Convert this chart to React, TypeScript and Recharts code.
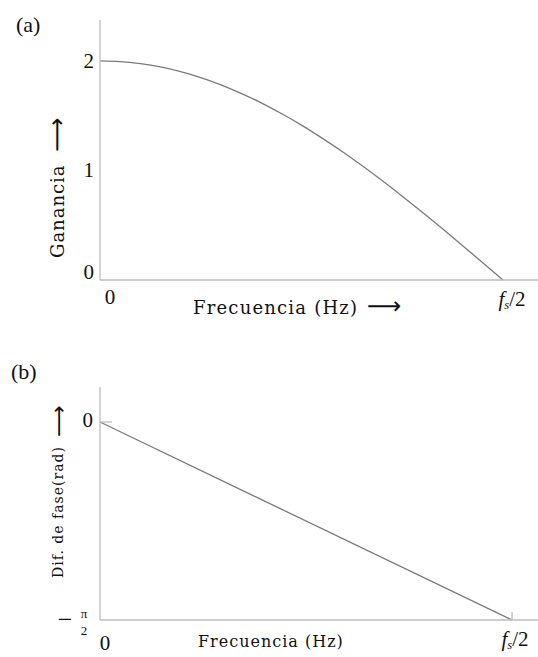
import React from "react";
import { LineChart, Line, XAxis, YAxis, Label } from "recharts";

// frequency is normalised so that 1 = fs/2
const gainFreq = [0, 0.05, 0.1, 0.15, 0.2, 0.25, 0.3, 0.35, 0.4, 0.45, 0.5, 0.55, 0.6, 0.65, 0.7, 0.75, 0.8, 0.85, 0.9, 0.95, 1];
const gainValues = [2.0, 1.994, 1.975, 1.945, 1.902, 1.848, 1.782, 1.704, 1.618, 1.52, 1.414, 1.298, 1.176, 1.045, 0.908, 0.765, 0.618, 0.467, 0.313, 0.157, 0];
const phaseFreq = [0, 1];
const phaseValues = [0, -1.5708];

const freqTicks = [0, 1];
const gainTicks = [0, 1, 2];
const phaseTicks = [-1.5708, 0];

const gainData = gainFreq.map((f, i) => ({ f, g: gainValues[i] }));
const phaseData = phaseFreq.map((f, i) => ({ f, p: phaseValues[i] }));

const TITLE = '"DejaVu Serif", serif';
const SERIF = '"Liberation Serif", serif';
const ARROW = '"DejaVu Sans", sans-serif';
const AXIS = "#bdbdbd";
const CURVE = "#7a7a7a";
const INK = "#111";

const FsHalf = ({ x, y, size }: { x: number; y: number; size: number }) => (
  <text x={x} y={y} textAnchor="middle" fontFamily={SERIF} fontSize={size} fill={INK}>
    <tspan fontStyle="italic">f</tspan>
    <tspan fontStyle="italic" fontSize={size * 0.6} dy={3}>s</tspan>
    <tspan dy={-3}>/2</tspan>
  </text>
);

const GainYTick = (props: any) => {
  const { x, y, payload } = props;
  return (
    <text
      x={x - 6}
      y={payload.value === 0 ? y - 8 : y}
      textAnchor="end"
      dominantBaseline="central"
      fontFamily={SERIF}
      fontSize={21}
      fill={INK}
    >
      {payload.value}
    </text>
  );
};

const GainXTick = (props: any) => {
  const { x, y, payload } = props;
  if (payload.value === 0) {
    return (
      <text x={x + 10} y={y + 24} textAnchor="middle" fontFamily={SERIF} fontSize={21} fill={INK}>
        0
      </text>
    );
  }
  return <FsHalf x={x + 9} y={y + 26} size={21} />;
};

const PhaseYTick = (props: any) => {
  const { x, y, payload } = props;
  if (payload.value === 0) {
    return (
      <g>
        <line x1={x} y1={y} x2={x + 12} y2={y} stroke={AXIS} strokeWidth={1.3} />
        <text x={x - 7} y={y - 2} textAnchor="end" dominantBaseline="central" fontFamily={SERIF} fontSize={21} fill={INK}>
          0
        </text>
      </g>
    );
  }
  return (
    <g fontFamily={SERIF} fill={INK}>
      <text x={x - 35} y={y - 1} textAnchor="middle" dominantBaseline="central" fontSize={26}>
        −
      </text>
      <text x={x - 16} y={y - 7} textAnchor="middle" dominantBaseline="central" fontSize={13}>
        π
      </text>
      <text x={x - 16} y={y + 10} textAnchor="middle" dominantBaseline="central" fontSize={13}>
        2
      </text>
    </g>
  );
};

const PhaseXTick = (props: any) => {
  const { x, y, payload } = props;
  if (payload.value === 0) {
    return (
      <text x={x + 5} y={y + 30} textAnchor="middle" fontFamily={SERIF} fontSize={21} fill={INK}>
        0
      </text>
    );
  }
  return (
    <g>
      <line x1={x} y1={y} x2={x} y2={y - 8} stroke={AXIS} strokeWidth={1.3} />
      <FsHalf x={x + 3} y={y + 26} size={21} />
    </g>
  );
};

const VerticalTitle = ({ x, y, size, children }: { x: number; y: number; size: number; children: React.ReactNode }) => (
  <text
    x={x}
    y={y}
    transform={`rotate(-90, ${x}, ${y})`}
    textAnchor="start"
    dominantBaseline="central"
    fontFamily={TITLE}
    fontSize={size}
    letterSpacing={1}
    fill={INK}
  >
    {children}
  </text>
);

const App = () => (
  <div style={{ position: "absolute", left: 0, top: 0, width: 538, height: 657, background: "#fff" }}>
    <div style={{ position: "absolute", left: 16, top: 12, fontFamily: SERIF, fontSize: 22, color: INK }}>(a)</div>
    <div style={{ position: "absolute", left: 11, top: 359, fontFamily: SERIF, fontSize: 22, color: INK }}>(b)</div>

    <div style={{ position: "absolute", left: 0, top: 0 }}>
      <LineChart width={538} height={330} data={gainData} margin={{ top: 20, right: 0, bottom: 0, left: 0 }}>
        <XAxis
          type="number"
          dataKey="f"
          domain={[0, 1.087]}
          ticks={freqTicks}
          height={50}
          stroke={AXIS}
          strokeWidth={1.3}
          tickLine={false}
          tickSize={0}
          tickMargin={0}
          tick={GainXTick}
        >
          <Label
            content={({ viewBox }: any) => (
              <text x={viewBox.x + 93} y={viewBox.y + 34} fontFamily={TITLE} fontSize={18} letterSpacing={1.2} fill={INK}>
                Frecuencia (Hz) <tspan fontFamily={ARROW} fontSize={24} letterSpacing={0} dx={2}>⟶</tspan>
              </text>
            )}
          />
        </XAxis>
        <YAxis
          type="number"
          domain={[0, 2.374]}
          ticks={gainTicks}
          width={100}
          stroke={AXIS}
          strokeWidth={1.3}
          tickLine={false}
          tickSize={0}
          tickMargin={0}
          tick={GainYTick}
        >
          <Label
            content={({ viewBox }: any) => (
              <VerticalTitle x={viewBox.x + viewBox.width - 43} y={viewBox.y + 238} size={18}>
                Ganancia <tspan fontFamily={ARROW} fontSize={24} letterSpacing={0} dx={6}>⟶</tspan>
              </VerticalTitle>
            )}
          />
        </YAxis>
        <Line type="natural" dataKey="g" stroke={CURVE} strokeWidth={1.3} dot={false} isAnimationActive={false} />
      </LineChart>
    </div>

    <div style={{ position: "absolute", left: 0, top: 330 }}>
      <LineChart width={538} height={327} data={phaseData} margin={{ top: 57, right: 0, bottom: 0, left: 0 }}>
        <XAxis
          type="number"
          dataKey="f"
          domain={[0, 1.063]}
          ticks={freqTicks}
          height={37}
          stroke={AXIS}
          strokeWidth={1.3}
          tickLine={false}
          tickSize={0}
          tickMargin={0}
          tick={PhaseXTick}
        >
          <Label
            content={({ viewBox }: any) => (
              <text x={viewBox.x + 98} y={viewBox.y + 27} fontFamily={TITLE} fontSize={16} letterSpacing={1} fill={INK}>
                Frecuencia (Hz)
              </text>
            )}
          />
        </XAxis>
        <YAxis
          type="number"
          domain={[-1.5708, 0.2777]}
          ticks={phaseTicks}
          width={100}
          stroke={AXIS}
          strokeWidth={1.3}
          tickLine={false}
          tickSize={0}
          tickMargin={0}
          tick={PhaseYTick}
        >
          <Label
            content={({ viewBox }: any) => (
              <VerticalTitle x={viewBox.x + viewBox.width - 42} y={viewBox.y + 191} size={14}>
                Dif. de fase(rad) <tspan fontFamily={ARROW} fontSize={22} letterSpacing={0} dx={4}>⟶</tspan>
              </VerticalTitle>
            )}
          />
        </YAxis>
        <Line type="linear" dataKey="p" stroke={CURVE} strokeWidth={1.3} dot={false} isAnimationActive={false} />
      </LineChart>
    </div>
  </div>
);

export default App;
